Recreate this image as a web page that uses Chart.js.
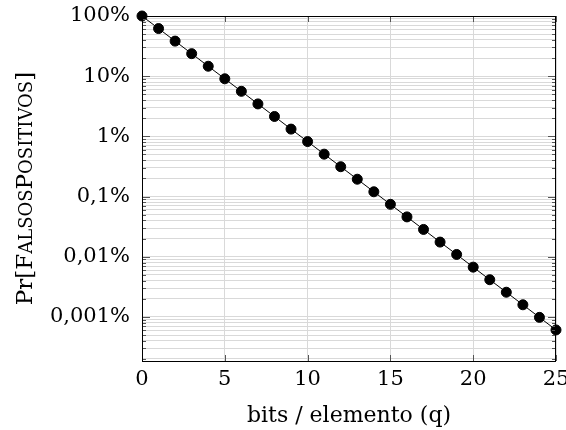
<!DOCTYPE html>
<html>
<head>
<meta charset="utf-8">
<script src="https://cdn.jsdelivr.net/npm/chart.js@4/dist/chart.umd.min.js"></script>
<style>
  html, body { margin: 0; padding: 0; background: #fff; }
  #wrap { width: 566px; height: 430px; }
</style>
</head>
<body>
<div id="wrap"><canvas id="chart" width="566" height="430"></canvas></div>
<script>
// bits por elemento (q)
const bitsPorElemento = [0, 1, 2, 3, 4, 5, 6, 7, 8, 9, 10, 11, 12, 13, 14, 15, 16, 17, 18, 19, 20, 21, 22, 23, 24, 25];
// probabilidade de falso positivo, em %
const probFalsoPositivo = [100, 61.85, 38.25, 23.66, 14.63, 9.05, 5.60, 3.46, 2.14, 1.32,
  0.819, 0.506, 0.313, 0.194, 0.120, 0.0742, 0.0459, 0.0284, 0.0175, 0.0109,
  0.00671, 0.00415, 0.00257, 0.00159, 0.000982, 0.000607];
// rótulos do eixo y (décadas)
const decadas = [100, 10, 1, 0.1, 0.01, 0.001];
const rotulosY = ["100%", "10%", "1%", "0,1%", "0,01%", "0,001%"];
const ticksX = [0, 5, 10, 15, 20, 25];
const tituloY = "Pr[FalsosPositivos]";
const tituloX = "bits / elemento (q)";

const FONTE = "'DejaVu Serif', 'Liberation Serif', serif";
const TAM = 21;
const GRADE = "#d9d9d9";

// ticks menores do log: 1..9 x 10^e
function ticksLog(min, max) {
  const out = [];
  for (let e = -5; e <= 2; e++) {
    for (let m = 1; m <= 9; m++) {
      const v = Number((m * Math.pow(10, e)).toPrecision(3));
      if (v >= min * 0.9999 && v <= max * 1.0001) out.push({ value: v, major: m === 1 });
    }
  }
  return out;
}

// marcas de escala para dentro (estilo pgfplots) + titulo y em versalete
const marcas = {
  id: "marcas",
  afterDraw(c) {
    const { ctx, chartArea: a, scales } = c;
    ctx.save();
    ctx.strokeStyle = "#555";
    ctx.lineWidth = 1;
    scales.y.ticks.forEach(t => {
      const y = Math.round(scales.y.getPixelForValue(t.value)) + 0.5;
      const len = t.major ? 8 : 4;
      ctx.beginPath();
      ctx.moveTo(a.left, y); ctx.lineTo(a.left + len, y);
      ctx.moveTo(a.right, y); ctx.lineTo(a.right - len, y);
      ctx.stroke();
    });
    scales.x.ticks.forEach(t => {
      const x = Math.round(scales.x.getPixelForValue(t.value)) + 0.5;
      ctx.beginPath();
      ctx.moveTo(x, a.bottom); ctx.lineTo(x, a.bottom - 6);
      ctx.moveTo(x, a.top); ctx.lineTo(x, a.top + 6);
      ctx.stroke();
    });
    ctx.strokeStyle = "#000";
    ctx.strokeRect(a.left + 0.5, a.top + 0.5, a.right - a.left - 1, a.bottom - a.top);

    // titulo do eixo y: "Pr[" + versalete
    const g = 23, p = 18;
    const partes = [["Pr[", g], ["F", g], ["ALSOS", p], ["P", g], ["OSITIVOS", p], ["]", g]];
    let total = 0;
    partes.forEach(q => { ctx.font = q[1] + "px " + FONTE; total += ctx.measureText(q[0]).width; });
    ctx.translate(24, (a.top + a.bottom) / 2);
    ctx.rotate(-Math.PI / 2);
    ctx.fillStyle = "#000";
    ctx.textBaseline = "alphabetic";
    let x = -total / 2;
    partes.forEach(q => {
      ctx.font = q[1] + "px " + FONTE;
      ctx.fillText(q[0], x, 8);
      x += ctx.measureText(q[0]).width;
    });
    ctx.restore();
  }
};

new Chart(document.getElementById("chart"), {
  type: "line",
  data: {
    labels: bitsPorElemento,
    datasets: [{
      label: tituloY,
      data: bitsPorElemento.map((q, i) => ({ x: q, y: probFalsoPositivo[i] })),
      borderColor: "#000",
      backgroundColor: "#000",
      borderWidth: 1,
      pointRadius: 5,
      pointHoverRadius: 5,
      tension: 0,
      clip: false
    }]
  },
  options: {
    responsive: false,
    animation: false,
    layout: { padding: { top: 16, right: 10, left: 0, bottom: 0 } },
    plugins: { legend: { display: false }, tooltip: { enabled: false } },
    scales: {
      x: {
        type: "linear",
        min: 0, max: 25,
        afterBuildTicks: s => { s.ticks = ticksX.map(v => ({ value: v })); },
        afterFit: s => { s.height = 69; s.paddingLeft = 0; s.paddingRight = 0; },
        grid: { color: GRADE, drawTicks: false },
        border: { display: false },
        ticks: { color: "#000", padding: 6, maxRotation: 0, font: { family: FONTE, size: TAM } },
        title: { display: true, text: tituloX, color: "#000", padding: { top: 6, bottom: 1 }, font: { family: FONTE, size: 22 } }
      },
      y: {
        type: "logarithmic",
        min: 0.000185, max: 100,
        afterBuildTicks: s => { s.ticks = ticksLog(s.min, s.max); },
        afterFit: s => { s.width = 142; s.paddingTop = 0; s.paddingBottom = 0; },
        grid: { color: GRADE, drawTicks: false },
        border: { display: false },
        ticks: {
          color: "#000",
          padding: 12,
          autoSkip: false,
          font: { family: FONTE, size: TAM },
          callback: v => {
            const i = decadas.findIndex(d => Math.abs(d - v) / d < 1e-6);
            return i >= 0 ? rotulosY[i] : "";
          }
        }
      }
    }
  },
  plugins: [marcas]
});
</script>
</body>
</html>
